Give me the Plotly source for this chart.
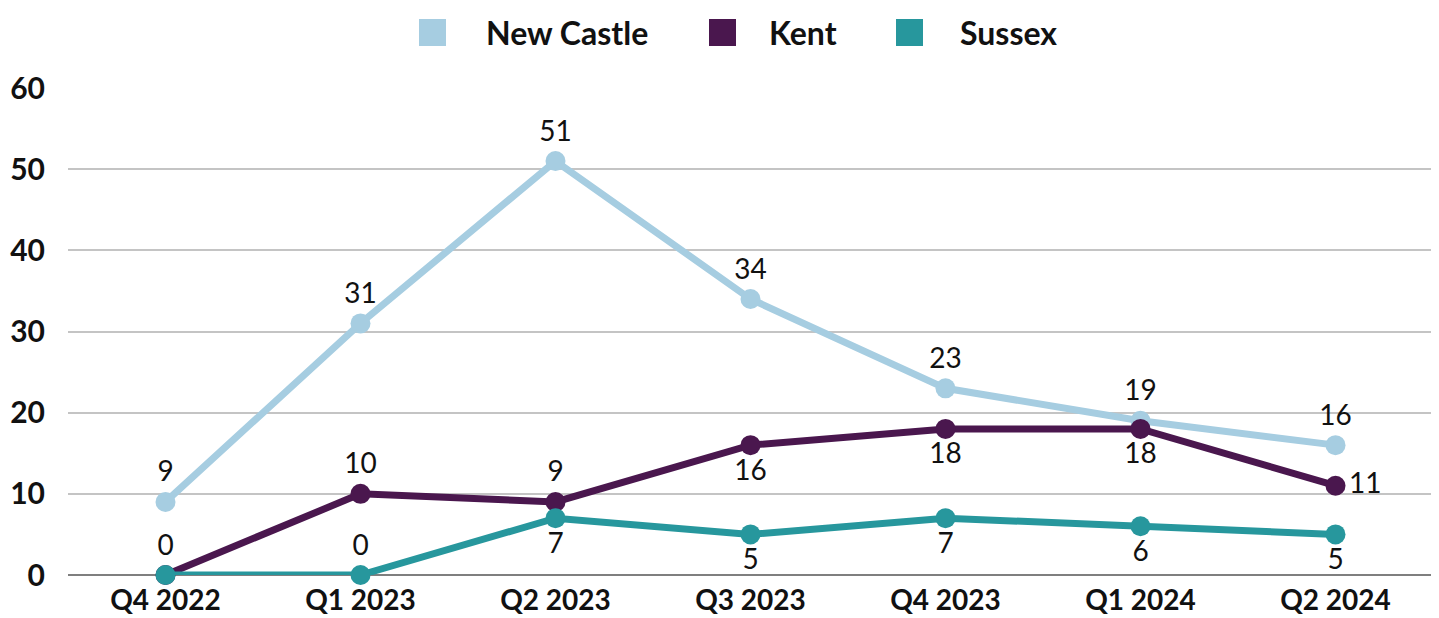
import plotly.graph_objects as go

quarters = ["Q4 2022", "Q1 2023", "Q2 2023", "Q3 2023", "Q4 2023", "Q1 2024", "Q2 2024"]
new_castle = [9, 31, 51, 34, 23, 19, 16]
kent = [0, 10, 9, 16, 18, 18, 11]
sussex = [0, 0, 7, 5, 7, 6, 5]

series_names = ["New Castle", "Kent", "Sussex"]
colors = ["#A6CDE1", "#4A174E", "#27979D"]

nc_pos = ["top center"] * 7
kent_pos = ["top center", "top center", "top center", "bottom center", "bottom center", "bottom center", "middle right"]
sussex_pos = ["top center", "top center", "bottom center", "bottom center", "bottom center", "bottom center", "bottom center"]
sussex_text = [""] + [str(v) for v in sussex[1:]]

fig = go.Figure()
label_font = dict(family="Lato, sans-serif", size=28, color="#111111")

for name, vals, col, pos, txt in [
    ("New Castle", new_castle, colors[0], nc_pos, [str(v) for v in new_castle]),
    ("Kent", kent, colors[1], kent_pos, [str(v) for v in kent]),
    ("Sussex", sussex, colors[2], sussex_pos, sussex_text),
]:
    fig.add_trace(go.Scatter(
        x=quarters, y=vals, name=name, mode="lines+markers+text",
        line=dict(color=col, width=7),
        marker=dict(color=col, size=20),
        text=txt, textposition=pos, textfont=label_font,
        cliponaxis=False, showlegend=False,
    ))

# page has an 8px body margin: the figure sits at (8, 8) in the window
OFF = 8
W, H = 1439 - OFF, 618 - OFF
L, R, T, B = 68 - OFF, 6, 88 - OFF, 43
pw, ph = W - L - R, H - T - B

def px(x):
    return (x - OFF - L) / pw

def py(y):
    return (H - B - (y - OFF)) / ph

legend_items = [(419, 484), (709, 767), (896, 958)]
for (sx, tx), name, col in zip(legend_items, series_names, colors):
    fig.add_shape(type="rect", xref="paper", yref="paper",
                  x0=px(sx), x1=px(sx + 27), y0=py(46), y1=py(19),
                  fillcolor=col, line=dict(width=0))
    fig.add_annotation(xref="paper", yref="paper", x=px(tx), y=py(32),
                       text=name, showarrow=False, xanchor="left", yanchor="middle",
                       font=dict(family="Lato, sans-serif", size=32, color="#111111", weight="bold"))

tick_font = dict(family="Lato, sans-serif", size=30, color="#111111", weight="bold")
xtick_font = dict(family="Lato, sans-serif", size=28, color="#111111", weight="bold")
fig.update_layout(
    width=W, height=H,
    margin=dict(l=L, r=R, t=T, b=B, autoexpand=False),
    plot_bgcolor="white", paper_bgcolor="white",
    xaxis=dict(range=[-0.5, 6.5], showgrid=False, ticks="", showline=False, zeroline=False,
               automargin=False, ticklabelstandoff=6, tickfont=xtick_font),
    yaxis=dict(range=[0, 60], dtick=10, showgrid=True, gridcolor="#C4C4C4", gridwidth=1.5,
               zeroline=True, zerolinecolor="#7F7F7F", zerolinewidth=2, ticks="", ticklabelstandoff=22,
               automargin=False, tickfont=tick_font),
)

fig.write_html("out.html")
